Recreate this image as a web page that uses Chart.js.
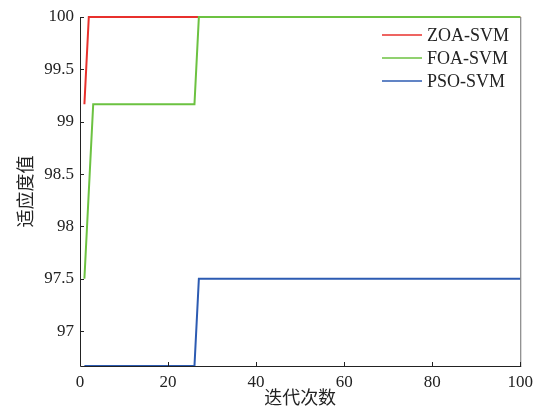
<!DOCTYPE html>
<html>
<head>
<meta charset="utf-8">
<script src="https://cdn.jsdelivr.net/npm/chart.js@4.4.0/dist/chart.umd.min.js"></script>
<style>
  html, body { margin: 0; padding: 0; background: #fff; }
  #wrap { width: 539px; height: 408px; }
</style>
</head>
<body>
<div id="wrap"><canvas id="chart" width="539" height="408"></canvas></div>
<script>
// iteration where each curve changes, and the fitness value there
const zoaIter = [1, 2, 100];
const zoaFit = [99.1667, 100, 100];
const foaIter = [1, 3, 26, 27, 100];
const foaFit = [97.5, 99.1667, 99.1667, 100, 100];
const psoIter = [1, 26, 27, 100];
const psoFit = [96.6667, 96.6667, 97.5, 97.5];

const xTicks = [0, 20, 40, 60, 80, 100];
const yTicks = [97, 97.5, 98, 98.5, 99, 99.5, 100];

const serif = "'Liberation Serif', 'DejaVu Serif', serif";

function toPoints(xs, ys) {
  return xs.map((x, i) => ({ x: x, y: ys[i] }));
}

// box frame, inward ticks and legend, drawn over the chart
const framePlugin = {
  id: "frame",
  afterDatasetsDraw(chart) {
    const ctx = chart.ctx;
    const a = chart.chartArea;
    const xs = chart.scales.x;
    const ys = chart.scales.y;
    ctx.save();
    ctx.lineWidth = 1;
    ctx.strokeStyle = "#6e6e6e";
    ctx.beginPath();
    ctx.moveTo(a.right + 0.5, a.top);
    ctx.lineTo(a.right + 0.5, a.bottom);
    ctx.stroke();

    ctx.strokeStyle = "#222";
    ctx.beginPath();
    ctx.moveTo(a.left + 0.5, a.top);
    ctx.lineTo(a.left + 0.5, a.bottom + 0.5);
    ctx.lineTo(a.right + 1, a.bottom + 0.5);
    xTicks.forEach((v) => {
      const px = Math.round(xs.getPixelForValue(v)) + 0.5;
      ctx.moveTo(px, a.bottom);
      ctx.lineTo(px, a.bottom - 4);
    });
    yTicks.forEach((v) => {
      const py = Math.round(ys.getPixelForValue(v)) + 0.5;
      ctx.moveTo(a.left, py);
      ctx.lineTo(a.left + 4, py);
    });
    ctx.stroke();

    // legend
    const rows = [35, 58, 81];
    ctx.font = "18px " + serif;
    ctx.textBaseline = "middle";
    ctx.fillStyle = "#222";
    chart.data.datasets.forEach((ds, i) => {
      const y = rows[i];
      ctx.strokeStyle = ds.borderColor;
      ctx.lineWidth = 1.5;
      ctx.beginPath();
      ctx.moveTo(382, y);
      ctx.lineTo(422, y);
      ctx.stroke();
      ctx.fillText(ds.label, 427, y + 1);
    });
    ctx.restore();
  },
};

new Chart(document.getElementById("chart"), {
  type: "line",
  data: {
    datasets: [
      {
        label: "ZOA-SVM",
        data: toPoints(zoaIter, zoaFit),
        borderColor: "#e8302c",
        order: 3,
      },
      {
        label: "FOA-SVM",
        data: toPoints(foaIter, foaFit),
        borderColor: "#6cc241",
        order: 2,
      },
      {
        label: "PSO-SVM",
        data: toPoints(psoIter, psoFit),
        borderColor: "#2c5bb2",
        order: 1,
      },
    ],
  },
  options: {
    responsive: false,
    animation: false,
    layout: { padding: { left: 14, right: 18, top: 17, bottom: 0 } },
    elements: {
      point: { radius: 0 },
      line: { borderWidth: 2, tension: 0 },
    },
    datasets: { line: { clip: false } },
    plugins: {
      legend: { display: false },
      tooltip: { enabled: false },
    },
    scales: {
      x: {
        type: "linear",
        min: 0,
        max: 100,
        afterBuildTicks: (s) => { s.ticks = xTicks.map((v) => ({ value: v })); },
        grid: { display: false, drawTicks: false },
        border: { display: false },
        ticks: { color: "#222", font: { family: serif, size: 17 }, padding: 6, maxRotation: 0 },
        title: {
          display: true,
          text: "迭代次数",
          color: "#222",
          font: { family: "'Noto Sans CJK SC'", size: 18 },
          padding: { top: 0, bottom: 0 },
        },
        afterFit: (s) => { s.height = 42; },
      },
      y: {
        type: "linear",
        min: 96.6667,
        max: 100,
        afterBuildTicks: (s) => { s.ticks = yTicks.map((v) => ({ value: v })); },
        grid: { display: false, drawTicks: false },
        border: { display: false },
        ticks: {
          color: "#222",
          font: { family: serif, size: 17 },
          padding: 6,
          callback: (v) => String(v),
        },
        title: {
          display: true,
          text: "适应度值",
          color: "#222",
          font: { family: "'Noto Sans CJK SC'", size: 18 },
          padding: { top: 0, bottom: 4 },
        },
        afterFit: (s) => { s.width = 66; },
      },
    },
  },
  plugins: [framePlugin],
});
</script>
</body>
</html>
